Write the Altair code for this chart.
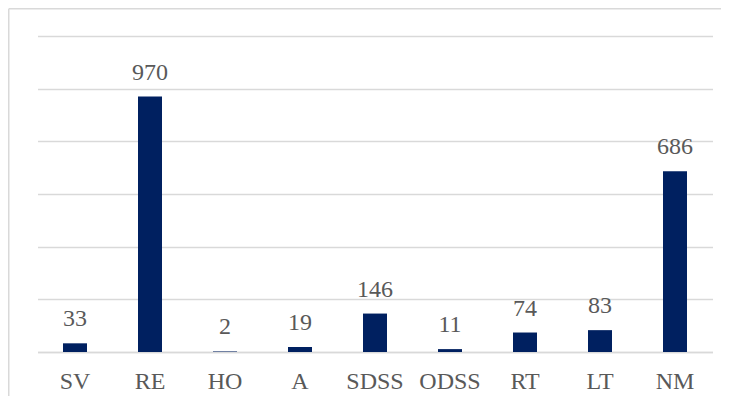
import altair as alt
import pandas as pd

categories = ["SV", "RE", "HO", "A", "SDSS", "ODSS", "RT", "LT", "NM"]
values = [33, 970, 2, 19, 146, 11, 74, 83, 686]

df = pd.DataFrame({"cat": categories, "val": values})

FONT = "Liberation Serif"
TEXT_COLOR = "#595959"
GRID = "#d9d9d9"

x_enc = alt.X("cat:N", sort=categories,
              scale=alt.Scale(paddingInner=0.68, paddingOuter=0.34),
              axis=alt.Axis(title=None, labelAngle=0, ticks=False, tickSize=0,
                            domain=True, domainColor=GRID, domainWidth=1.5,
                            labelFont=FONT, labelFontSize=24, labelColor=TEXT_COLOR,
                            labelBaseline="alphabetic", labelPadding=36))
y_enc = alt.Y("val:Q", scale=alt.Scale(domain=[0, 1200], nice=False),
              axis=alt.Axis(title=None, labels=False, ticks=False, domain=False,
                            values=[0, 200, 400, 600, 800, 1000, 1200],
                            gridColor=GRID, gridWidth=1.5))

one = pd.DataFrame({"a": [0]})
frame_top = alt.Chart(one).mark_rule(color=GRID, strokeWidth=1.5).encode(
    x=alt.value(-28.75), x2=alt.value(684), y=alt.value(-27.25))
frame_left = alt.Chart(one).mark_rule(color=GRID, strokeWidth=1.5).encode(
    x=alt.value(-28.75), y=alt.value(-27.25), y2=alt.value(360))

bars = alt.Chart(df).mark_bar(color="#002060").encode(x=x_enc, y=y_enc)

labels = alt.Chart(df).mark_text(
    font=FONT, fontSize=24, color=TEXT_COLOR, baseline="alphabetic", dy=-17
).encode(x=alt.X("cat:N", sort=categories), y="val:Q", text="val:Q")

chart = alt.layer(frame_top, frame_left, bars, labels).properties(
    width=675, height=316,
    autosize=alt.AutoSizeParams(type="none"),
    padding={"left": 29.5, "top": 28, "right": 8.5, "bottom": 46},
).configure(background="white").configure_view(stroke=None)

chart.save("out.html", embed_options={"renderer": "svg", "actions": False})
